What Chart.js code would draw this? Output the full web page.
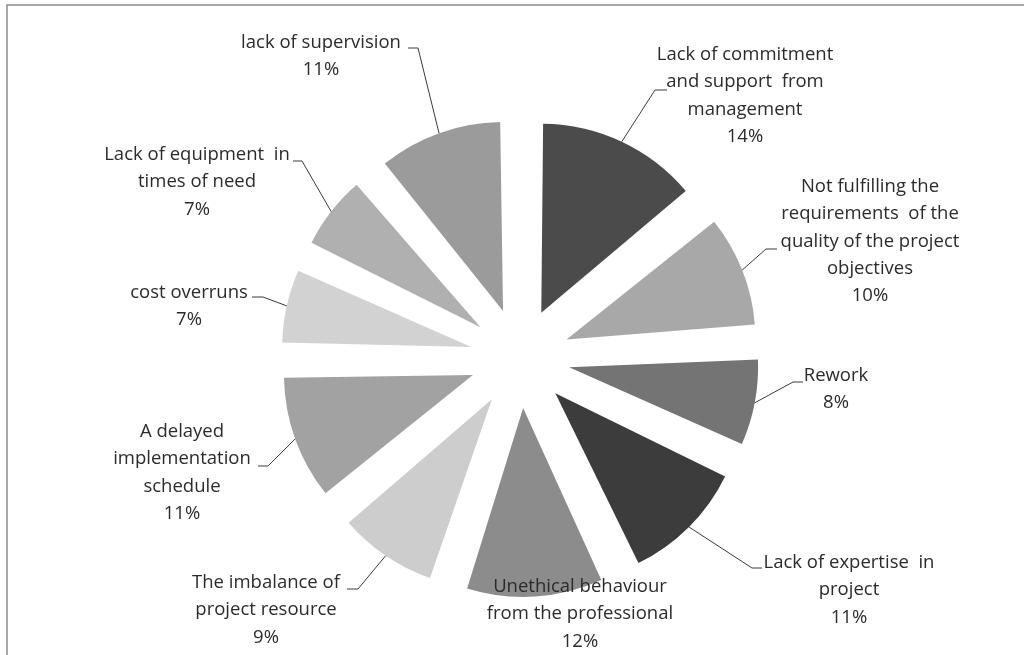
<!DOCTYPE html>
<html>
<head>
<meta charset="utf-8">
<title>Causes of poor project quality</title>
<script src="https://cdn.jsdelivr.net/npm/chart.js@4.4.0/dist/chart.umd.min.js"></script>
<style>
  html, body { margin: 0; padding: 0; background: #fff; }
  canvas { display: block; }
</style>
</head>
<body>
<canvas id="causesPie" width="1024" height="655"></canvas>
<script>
// slice names (already broken into the lines they are printed on)
const categories = [
  ["Lack of commitment", "and support  from", "management"],
  ["Not fulfilling the", "requirements  of the", "quality of the project", "objectives"],
  ["Rework"],
  ["Lack of expertise  in", "project"],
  ["Unethical behaviour", "from the professional"],
  ["The imbalance of", "project resource"],
  ["A delayed", "implementation", "schedule"],
  ["cost overruns"],
  ["Lack of equipment  in", "times of need"],
  ["lack of supervision"]
];

// share of responses, percent
const shares = [14, 10, 8, 11, 12, 9, 11, 7, 7, 11];

const sliceColors = [
  "#4b4b4b", "#a8a8a8", "#747474", "#3c3c3c", "#8c8c8c",
  "#cdcdcd", "#a2a2a2", "#d2d2d2", "#b0b0b0", "#9b9b9b"
];

// where each label sits; knee = where the leader line meets the little tick
const labelSpots = [
  { x: 745, y: 55,  knee: [655, 90],  tick: 667 },
  { x: 870, y: 187, knee: [766, 249], tick: 777 },
  { x: 836, y: 376, knee: [793, 382], tick: 803 },
  { x: 849, y: 563, knee: [752, 568], tick: 762 },
  { x: 580, y: 587, knee: null },
  { x: 266, y: 583, knee: [358, 589], tick: 347 },
  { x: 182, y: 432, knee: [268, 466], tick: 258 },
  { x: 189, y: 293, knee: [263, 297], tick: 252 },
  { x: 197, y: 155, knee: [302, 161], tick: 293 },
  { x: 321, y: 43,  knee: [418, 48],  tick: 408 }
];

const pieRadius = 189;
const explode = 200;       // arc offset option; the arc moves out by a quarter of this
const lineGap = 27.2;
const labelFont = "18.5px 'Open Sans', sans-serif";

// thin frame around the plot, cut off at the right and bottom
const framePlugin = {
  id: "frame",
  beforeDraw(chart) {
    const ctx = chart.ctx;
    ctx.save();
    ctx.strokeStyle = "#8c8c8c";
    ctx.lineWidth = 1.5;
    ctx.beginPath();
    ctx.moveTo(7, 660);
    ctx.lineTo(7, 5);
    ctx.lineTo(1030, 5);
    ctx.stroke();
    ctx.restore();
  }
};

// exploded arcs get a bigger radius the narrower they are, keep them all the same size
const evenRadiusPlugin = {
  id: "evenRadius",
  beforeDatasetsDraw(chart) {
    chart.getDatasetMeta(0).data.forEach(arc => {
      const shift = (arc.options.offset || 0) / 4;
      const fix = 1 - Math.sin(Math.min(Math.PI, arc.circumference));
      arc.outerRadius = pieRadius - shift * fix;
    });
  }
};

// outside labels with leader lines to the middle of each arc
const sliceLabelPlugin = {
  id: "sliceLabels",
  afterDatasetsDraw(chart) {
    const ctx = chart.ctx;
    const arcs = chart.getDatasetMeta(0).data;
    ctx.save();
    ctx.font = labelFont;
    ctx.fillStyle = "#2b2b2b";
    ctx.strokeStyle = "#3a3a3a";
    ctx.lineWidth = 1;
    ctx.textAlign = "center";
    ctx.textBaseline = "middle";

    arcs.forEach((arc, i) => {
      const spot = labelSpots[i];
      const lines = categories[i].concat([shares[i] + "%"]);
      lines.forEach((txt, k) => {
        ctx.fillText(txt, spot.x, spot.y + k * lineGap);
      });

      if (!spot.knee) return;
      const mid = (arc.startAngle + arc.endAngle) / 2;
      const reach = (arc.options.offset || 0) / 4 + pieRadius;
      const sx = arc.x + Math.cos(mid) * reach;
      const sy = arc.y + Math.sin(mid) * reach;
      ctx.beginPath();
      ctx.moveTo(sx, sy);
      ctx.lineTo(spot.knee[0], spot.knee[1]);
      ctx.lineTo(spot.tick, spot.knee[1]);
      ctx.stroke();
    });
    ctx.restore();
  }
};

new Chart(document.getElementById("causesPie"), {
  type: "pie",
  data: {
    labels: categories.map(c => c.join(" ")),
    datasets: [{
      data: shares,
      backgroundColor: sliceColors,
      borderWidth: 0,
      offset: explode,
      hoverOffset: explode
    }]
  },
  options: {
    responsive: false,
    animation: false,
    events: [],
    radius: pieRadius,
    layout: { padding: { left: 16, right: 0, top: 61, bottom: 0 } },
    plugins: {
      legend: { display: false },
      tooltip: { enabled: false }
    }
  },
  plugins: [framePlugin, evenRadiusPlugin, sliceLabelPlugin]
});
</script>
</body>
</html>
